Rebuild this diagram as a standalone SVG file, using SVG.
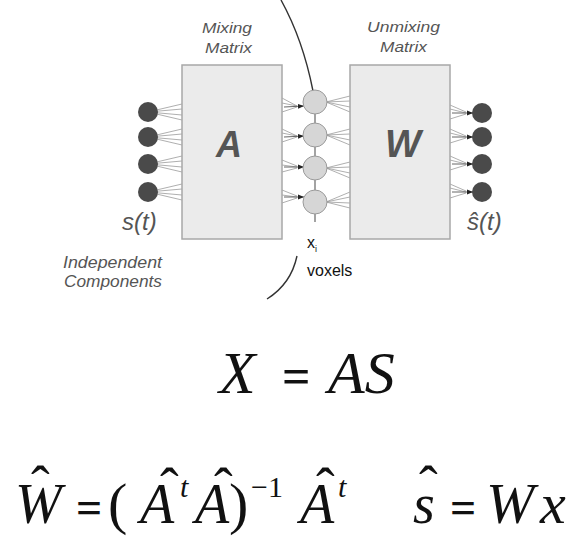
<svg xmlns="http://www.w3.org/2000/svg" width="587" height="546" viewBox="0 0 587 546">
<defs>
<marker id="ah" viewBox="0 0 10 10" refX="10" refY="5" markerWidth="6" markerHeight="6" orient="auto" markerUnits="userSpaceOnUse"><path d="M0,1 L10,5 L0,9 z" fill="#222"/></marker>
<style>
.box{fill:#ebebeb;stroke:#a8a8a8;stroke-width:1.5}
.dark{fill:#4a4a4a}
.light{fill:#d6d6d6;stroke:#9a9a9a;stroke-width:1}
.fan{stroke:#9a9a9a;stroke-width:0.8;fill:none}
.arr{stroke:#555;stroke-width:0.9;fill:none}
.lbl{font-family:"Liberation Sans",Arial,sans-serif;font-style:italic;fill:#555}
.big{font-family:"Liberation Sans",Arial,sans-serif;font-style:italic;font-weight:bold;fill:#555;text-anchor:middle}
.plain{font-family:"Liberation Sans",Arial,sans-serif;fill:#111}
.m{font-family:"Liberation Serif","Times New Roman",serif;font-style:italic;fill:#111}
.r{font-family:"Liberation Serif","Times New Roman",serif;fill:#111}
.eq{font-family:"Liberation Serif","Times New Roman",serif;font-weight:bold;fill:#111}
</style>
</defs>
<rect width="587" height="546" fill="#fff"/>

<g id="connectors">
<path class="fan" d="M148,112 L182,104 M148,112 L182,109 M148,112 L182,115 M148,112 L182,120 M148,137 L182,129 M148,137 L182,134 M148,137 L182,140 M148,137 L182,145 M148,164 L182,156 M148,164 L182,161 M148,164 L182,167 M148,164 L182,172 M148,192 L182,184 M148,192 L182,189 M148,192 L182,195 M148,192 L182,200"/>
<path class="fan" d="M282,98 L297,106 M282,103 L297,106 M282,112 L297,107 M282,129 L297,136 M282,133 L297,136 M282,142 L297,137 M282,160 L297,166 M282,165 L297,167 M282,172 L297,168 M282,190 L297,196 M282,195 L297,197 M282,203 L297,198"/>
<line class="arr" x1="284" y1="107" x2="304" y2="106" marker-end="url(#ah)"/>
<line class="arr" x1="284" y1="137" x2="304" y2="136" marker-end="url(#ah)"/>
<line class="arr" x1="284" y1="167" x2="304" y2="167" marker-end="url(#ah)"/>
<line class="arr" x1="284" y1="197" x2="304" y2="197" marker-end="url(#ah)"/>
<path class="fan" d="M326,102 L350,96 M326,102 L350,101 M326,102 L350,107 M326,102 L350,112 M326,135 L350,129 M326,135 L350,134 M326,135 L350,140 M326,135 L350,145 M326,168 L350,162 M326,168 L350,167 M326,168 L350,173 M326,168 L350,178 M326,202 L350,192 M326,202 L350,197 M326,202 L350,203 M326,202 L350,208"/>
<path class="fan" d="M450,105 L466,112 M450,109 L466,113 M450,119 L466,114 M450,129 L466,136 M450,133 L466,137 M450,143 L466,138 M450,156 L466,163 M450,160 L466,164 M450,170 L466,165 M450,184 L466,191 M450,188 L466,192 M450,198 L466,193"/>
<line class="arr" x1="452" y1="113" x2="473" y2="113" marker-end="url(#ah)"/>
<line class="arr" x1="452" y1="137" x2="473" y2="137" marker-end="url(#ah)"/>
<line class="arr" x1="452" y1="164" x2="473" y2="164" marker-end="url(#ah)"/>
<line class="arr" x1="452" y1="192" x2="473" y2="192" marker-end="url(#ah)"/>
<line x1="315" y1="90" x2="315" y2="222" stroke="#666" stroke-width="1.2"/>
<path d="M281,0 Q303,40 313,91" fill="none" stroke="#333" stroke-width="1.4"/>
<path d="M297,256 Q291,284 267,299" fill="none" stroke="#333" stroke-width="1.4"/>
</g>

<g id="sources">
<circle class="dark" cx="148" cy="112" r="10"/>
<circle class="dark" cx="148" cy="137" r="10"/>
<circle class="dark" cx="148" cy="164" r="10"/>
<circle class="dark" cx="148" cy="192" r="10"/>
<text class="lbl" x="122" y="230" font-size="24">s(t)</text>
<text class="lbl" x="63" y="268" font-size="16" textLength="99" lengthAdjust="spacingAndGlyphs">Independent</text>
<text class="lbl" x="64" y="287" font-size="16" textLength="98" lengthAdjust="spacingAndGlyphs">Components</text>
</g>

<g id="mixing">
<rect class="box" x="182" y="65" width="100" height="174"/>
<text class="big" x="229" y="157" font-size="36">A</text>
<text class="lbl" x="202" y="33" font-size="15" textLength="50" lengthAdjust="spacingAndGlyphs">Mixing</text>
<text class="lbl" x="205" y="53" font-size="15" textLength="47" lengthAdjust="spacingAndGlyphs">Matrix</text>
</g>

<g id="voxels">
<circle class="light" cx="315" cy="102" r="12"/>
<circle class="light" cx="315" cy="135" r="12"/>
<circle class="light" cx="315" cy="168" r="12"/>
<circle class="light" cx="315" cy="202" r="12"/>
<text class="plain" x="307" y="248" font-size="16">x<tspan font-size="9" dy="4">i</tspan></text>
<text class="plain" x="307" y="276" font-size="16">voxels</text>
</g>

<g id="unmixing">
<rect class="box" x="350" y="65" width="100" height="174"/>
<text class="big" x="403" y="157" font-size="38">W</text>
<text class="lbl" x="367" y="32" font-size="15" textLength="73" lengthAdjust="spacingAndGlyphs">Unmixing</text>
<text class="lbl" x="380" y="52" font-size="15" textLength="47" lengthAdjust="spacingAndGlyphs">Matrix</text>
</g>

<g id="outputs">
<circle class="dark" cx="482" cy="113" r="10"/>
<circle class="dark" cx="482" cy="137" r="10"/>
<circle class="dark" cx="482" cy="164" r="10"/>
<circle class="dark" cx="482" cy="192" r="10"/>
<text class="lbl" x="467" y="230" font-size="24">ŝ(t)</text>
</g>

<g id="equation1">
<text class="m" x="219" y="393" font-size="60">X</text>
<text class="eq" x="282" y="393" font-size="50">=</text>
<text class="m" x="328" y="393" font-size="60">AS</text>
</g>

<g id="equation2">
<text class="m" x="15" y="523" font-size="56">W</text>
<text class="r" x="31" y="505" font-size="56">ˆ</text>
<text class="eq" x="76" y="523" font-size="46">=</text>
<text class="r" x="108" y="523" font-size="58">(</text>
<text class="m" x="140" y="523" font-size="56">A</text>
<text class="r" x="160" y="507" font-size="56">ˆ</text>
<text class="m" x="180" y="497" font-size="30">t</text>
<text class="m" x="195" y="523" font-size="56">A</text>
<text class="r" x="214" y="507" font-size="56">ˆ</text>
<text class="r" x="229" y="523" font-size="58">)</text>
<text class="r" x="251" y="497" font-size="30">−1</text>
<text class="m" x="300" y="523" font-size="56">A</text>
<text class="r" x="316" y="507" font-size="56">ˆ</text>
<text class="m" x="338" y="497" font-size="30">t</text>
<text class="m" x="413" y="523" font-size="56">s</text>
<text class="r" x="419" y="505" font-size="56">ˆ</text>
<text class="eq" x="450" y="523" font-size="46">=</text>
<text class="m" x="486" y="523" font-size="58">W</text>
<text class="m" x="540" y="523" font-size="58">x</text>
</g>
</svg>
